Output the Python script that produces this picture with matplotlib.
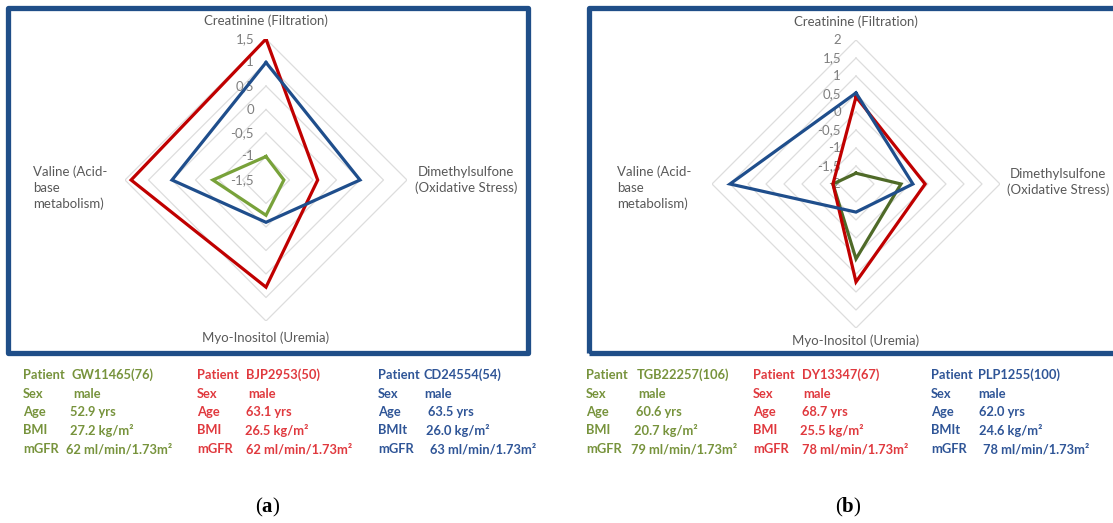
import numpy as np
import matplotlib.pyplot as plt
from matplotlib.patches import Rectangle
from matplotlib.transforms import offset_copy

plt.rcParams['font.family'] = ['Lato', 'DejaVu Sans']
plt.rcParams['mathtext.fontset'] = 'custom'
plt.rcParams['mathtext.rm'] = 'Liberation Serif'
plt.rcParams['mathtext.bf'] = 'Liberation Serif:bold'

# radar axes, clockwise from the top
categories = ['Creatinine (Filtration)', 'Dimethylsulfone\n(Oxidative Stress)',
              'Myo-Inositol (Uremia)', 'Valine (Acid-\nbase\nmetabolism)']

# panel (a) values
a_green = [-1.0, -1.12, -0.75, -0.37]
a_red = [1.5, -0.4, 0.78, 1.37]
a_blue = [1.0, 0.5, -0.6, 0.5]
a_ticks = [-1.5, -1.0, -0.5, 0.0, 0.5, 1.0, 1.5]

# panel (b) values
b_green = [-1.7, -0.75, 0.08, -1.36]
b_red = [0.42, -0.08, 0.72, -1.36]
b_blue = [0.53, -0.42, -1.22, 1.5]
b_ticks = [-2.0, -1.5, -1.0, -0.5, 0.0, 0.5, 1.0, 1.5, 2.0]

# patient info
keys = ['Patient', 'Sex', 'Age', 'BMI', 'mGFR']
bmi_keys = ['BMI', 'BMI', 'BMIt']
a_patients = ['GW11465(76)', 'BJP2953(50)', 'CD24554(54)']
a_sex = ['male', 'male', 'male']
a_age = ['52.9 yrs', '63.1 yrs', '63.5 yrs']
a_bmi = ['27.2 kg/m²', '26.5 kg/m²', '26.0 kg/m²']
a_mgfr = ['62 ml/min/1.73m²', '62 ml/min/1.73m²', '63 ml/min/1.73m²']
b_patients = ['TGB22257(106)', 'DY13347(67)', 'PLP1255(100)']
b_sex = ['male', 'male', 'male']
b_age = ['60.6 yrs', '68.7 yrs', '62.0 yrs']
b_bmi = ['20.7 kg/m²', '25.5 kg/m²', '24.6 kg/m²']
b_mgfr = ['79 ml/min/1.73m²', '78 ml/min/1.73m²', '78 ml/min/1.73m²']

W, H = 1113, 523
fig = plt.figure(figsize=(W / 100, H / 100), dpi=100)
fig.patch.set_facecolor('white')


def fx(px):
    return px / W


def fy(py):
    return 1 - py / H


def fmt(t):
    s = ('%g' % t).replace('.', ',')
    return s


def radar(cx, cy, rad, series, colors, ticks, tick_dx, offs):
    ax = fig.add_axes([fx(cx - rad), fy(cy + rad), 2 * rad / W, 2 * rad / H],
                      projection='polar')
    ax.set_theta_offset(np.pi / 2)
    ax.set_theta_direction(-1)
    ax.set_ylim(ticks[0], ticks[-1])
    ax.grid(False)
    ax.set_xticks([])
    ax.set_yticks([])
    ax.spines['polar'].set_visible(False)
    ax.patch.set_visible(False)
    th = np.linspace(0, 2 * np.pi, 5)
    for t in ticks[1:]:
        ax.plot(th, [t] * 5, color='#DDDDDD', lw=0.9, zorder=1)
    for vals, c in zip(series, colors):
        ax.plot(th, vals + vals[:1], color=c, lw=2.3, zorder=3,
                solid_joinstyle='miter')
    tr = offset_copy(ax.transData, fig=fig, x=-tick_dx, y=0, units='dots')
    for t in ticks:
        ax.text(0, t, fmt(t), transform=tr, ha='right', va='center',
                fontsize=9.5, color='#7F7F7F', zorder=2)
    # category labels
    has = ['center', 'left', 'center', 'right']
    for k, cat in enumerate(categories):
        ax.annotate(cat, xy=(th[k], ticks[-1]), xytext=offs[k],
                    textcoords='offset pixels', ha=has[k], va='center',
                    multialignment='left' if k == 3 else 'center',
                    fontsize=9.5, color='#595959', linespacing=1.35,
                    annotation_clip=False)
    return ax


radar(266, 180, 141, [a_green, a_red, a_blue], ['#78A23A', '#C00000', '#1F4E8C'],
      a_ticks, 12, [(0, 18), (8, 0), (0, -17), (-18, -8)])
radar(856, 184, 144, [b_green, b_red, b_blue], ['#4F6A28', '#C00000', '#1F4E8C'],
      b_ticks, 15, [(0, 18), (7, 2), (0, -13), (-21, -4)])

# frames around the charts
for x0, x1 in [(8, 528), (589, 1135)]:
    fig.add_artist(Rectangle((fx(x0), fy(353)), (x1 - x0) / W, 345 / H,
                             transform=fig.transFigure, fill=False,
                             edgecolor='#1F4E88', lw=3.8, joinstyle='round'))

# patient tables
text_cols = ['#77933C', '#E0393E', '#2F5597']
row_y = [375, 393.5, 412, 430.5, 449]
a_key_x = [23, 197, 378]
a_val_x = [[72, 73, 70, 70, 66], [246, 248, 246, 245, 246], [423, 424, 428, 426, 430]]
b_key_x = [586, 753, 931]
b_val_x = [[637, 638, 636, 634, 631], [802, 803, 802, 800, 802], [978, 978, 979, 979, 983]]


def table(key_x, val_x, pats, sex, age, bmi, mgfr):
    for j in range(3):
        vals = [pats[j], sex[j], age[j], bmi[j], mgfr[j]]
        ks = list(keys)
        ks[3] = bmi_keys[j]
        for i in range(5):
            fig.text(fx(key_x[j]), fy(row_y[i]), ks[i], ha='left', va='center',
                     fontsize=9.3, fontweight='bold', color=text_cols[j])
            fig.text(fx(val_x[j][i]), fy(row_y[i]), vals[i], ha='left', va='center',
                     fontsize=9.3, fontweight='bold', color=text_cols[j])


table(a_key_x, a_val_x, a_patients, a_sex, a_age, a_bmi, a_mgfr)
table(b_key_x, b_val_x, b_patients, b_sex, b_age, b_bmi, b_mgfr)

fig.text(fx(268), fy(507), r'($\mathbf{a}$)', ha='center', va='center',
         fontsize=15, family='Liberation Serif')
fig.text(fx(848), fy(507), r'($\mathbf{b}$)', ha='center', va='center',
         fontsize=15, family='Liberation Serif')

fig.savefig('out.png', dpi=100, facecolor='white')
